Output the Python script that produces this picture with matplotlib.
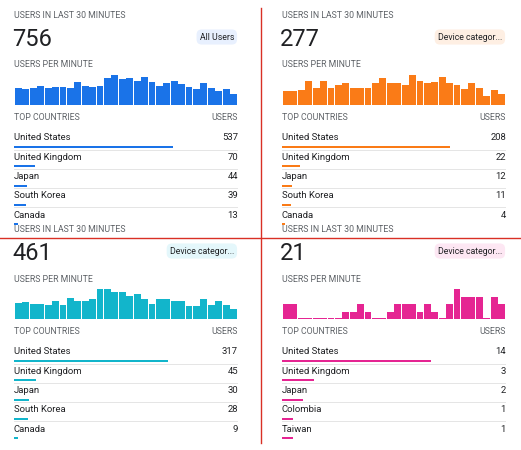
import matplotlib
matplotlib.use("Agg")
import matplotlib.pyplot as plt

W, H = 521, 450
totals = [756, 277, 461, 21]
badges = ["All Users", "Device categor...", "Device categor...", "Device categor..."]
colors = ["#1a73e8", "#fa7b17", "#12b5cb", "#e52592"]
badge_bg = ["#e8f0fe", "#feefe3", "#e4f7fb", "#fde7f3"]
per_minute = [
    [43,41,43,48,43,47,45,43,58,48,47,49,70,77,67,69,61,73,58,49,57,62,55,45,41,56,43,37,41,28],
    [41,41,43,67,49,67,47,56,62,49,47,47,62,76,62,62,58,85,69,63,65,78,62,56,46,62,49,26,43,31],
    [42,45,40,40,37,46,37,54,48,46,51,78,78,69,69,59,66,53,40,51,53,46,46,33,33,51,37,46,37,27],
    [2,2,0,0,0,0,0,0,1,1,2,1,0,0,1,2,2,2,1,2,1,0,2,4,3,3,3,0,3,2],
]
countries = [
    ["United States", "United Kingdom", "Japan", "South Korea", "Canada"],
    ["United States", "United Kingdom", "Japan", "South Korea", "Canada"],
    ["United States", "United Kingdom", "Japan", "South Korea", "Canada"],
    ["United States", "United Kingdom", "Japan", "Colombia", "Taiwan"],
]
country_users = [
    [537, 70, 44, 39, 13],
    [208, 22, 12, 11, 4],
    [317, 45, 30, 28, 9],
    [14, 3, 2, 1, 1],
]

fig = plt.figure(figsize=(W/100, H/100), dpi=100)
fig.patch.set_facecolor("white")
plt.rcParams['font.family'] = ['Roboto', 'DejaVu Sans']

def fx(x): return x / W
def fy(y): return 1 - y / H

grey = "#5f6368"
dark = "#202124"
for i in range(4):
    ox = 14 if i % 2 == 0 else 282
    oy = 0 if i < 2 else 214
    right = ox + 224
    fig.text(fx(ox), fy(oy+16), "USERS IN LAST 30 MINUTES", fontsize=6.3, color=grey, va="center")
    fig.text(fx(ox-2), fy(oy+39), str(totals[i]), fontsize=17, color=dark, va="center")
    fig.text(fx(right-4), fy(oy+37), badges[i], fontsize=6.3, color=dark, va="center", ha="right",
             bbox=dict(boxstyle="round,pad=0.35,rounding_size=0.6", fc=badge_bg[i], ec="none"))
    fig.text(fx(ox), fy(oy+65), "USERS PER MINUTE", fontsize=6.3, color=grey, va="center")
    ax = fig.add_axes([fx(ox), fy(oy+105), fx(224), 30/H])
    vals = per_minute[i]
    disp = [v if v > 0 else max(vals)*0.02 for v in vals]
    ax.bar(range(len(vals)), disp, width=0.92, color=colors[i])
    ax.set_xlim(-0.6, len(vals)-0.4)
    ax.set_ylim(0, max(vals))
    ax.axis("off")
    fig.text(fx(ox), fy(oy+118), "TOP COUNTRIES", fontsize=6.3, color=grey, va="center")
    fig.text(fx(right), fy(oy+118), "USERS", fontsize=6.3, color=grey, va="center", ha="right")
    lax = fig.add_axes([fx(ox), fy(oy+225), fx(224), 97/H])
    lax.set_xlim(0, totals[i])
    lax.set_ylim(97, 0)
    lax.axis("off")
    for j, (c, u) in enumerate(zip(countries[i], country_users[i])):
        y0 = 10 + j*19.3
        lax.text(0, y0, c, fontsize=6.8, color=dark, va="center")
        lax.text(totals[i], y0, str(u), fontsize=6.8, color=dark, va="center", ha="right")
        lax.barh(y0+9, u, height=2, color=colors[i], left=0)
        if j < 4:
            lax.axhline(y0+11.5, color="#e0e0e0", lw=0.6)

fig.add_artist(plt.Line2D([fx(261), fx(261)], [fy(8), fy(443)], color="#d93025", lw=1))
fig.add_artist(plt.Line2D([fx(0), fx(521)], [fy(238), fy(238)], color="#d93025", lw=1))
fig.savefig("out.png", dpi=100)
